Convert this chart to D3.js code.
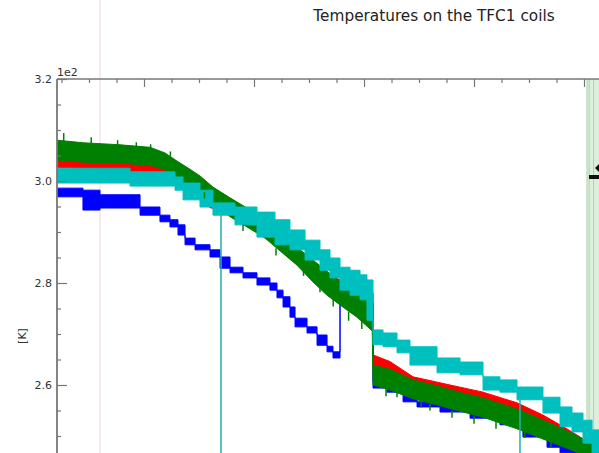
<!DOCTYPE html>
<html>
<head>
<meta charset="utf-8">
<script src="https://cdn.jsdelivr.net/npm/d3@7"></script>
<style>
  body { margin: 0; background: #fff; }
  svg { display: block; font-family: "DejaVu Sans", sans-serif; }
</style>
</head>
<body>
<svg id="chart" width="599" height="453"></svg>
<script>
// time axis (arbitrary units, major tick = 1), temperatures in K
// each row: [t, upper, lower]
const blue = [
  [0.209, 298.6, 296.9], [0.445, 298.2, 294.3], [0.6, 297.3, 294.7], [0.964, 294.9, 293.3],
  [1.145, 293.3, 292.0], [1.236, 292.4, 291.0], [1.309, 291.4, 289.4], [1.373, 288.8, 287.5],
  [1.464, 287.5, 286.5], [1.6, 286.5, 285.1], [1.691, 285.1, 282.9], [1.782, 283.1, 282.0],
  [1.9, 282.0, 281.0], [2.027, 281.0, 279.6], [2.145, 280.0, 278.6], [2.209, 278.6, 277.1],
  [2.264, 277.3, 275.3], [2.327, 275.3, 273.3], [2.373, 273.1, 271.4], [2.482, 271.4, 270.2],
  [2.573, 269.8, 267.8], [2.664, 267.6, 266.5], [2.718, 266.5, 265.3], [2.782, 278.0, 276.1],
  [3.082, 260.6, 259.4], [3.209, 259.6, 258.6], [3.355, 258.4, 256.7], [3.482, 256.7, 255.7],
  [3.691, 256.1, 254.7], [3.964, 255.1, 253.5], [4.236, 253.5, 252.2], [4.445, 251.6, 249.8],
  [4.664, 249.8, 247.8], [4.782, 248.6, 246.7], [4.9, 247.3, 245.3], [5.009, 246.1, 244.1],
  [5.3, 246.1, 244.1]
];
const cyan = [
  [0.209, 302.5, 299.6], [0.873, 301.8, 299.0], [1.282, 300.8, 298.2], [1.355, 299.6, 296.3],
  [1.509, 298.2, 294.9], [1.627, 295.7, 293.3], [1.827, 294.9, 291.4], [2.027, 293.9, 289.0],
  [2.191, 292.4, 287.5], [2.327, 290.4, 286.5], [2.464, 288.4, 284.5], [2.6, 286.5, 282.5],
  [2.691, 284.9, 281.0], [2.782, 283.1, 278.6], [2.873, 282.5, 277.6], [2.964, 281.6, 276.7],
  [3.027, 280.6, 272.7], [3.082, 270.8, 267.9], [3.173, 270.2, 267.5], [3.3, 268.8, 266.3],
  [3.418, 267.5, 263.9], [3.664, 265.3, 262.4], [3.873, 264.5, 262.0], [4.082, 261.6, 259.0],
  [4.236, 261.0, 258.6], [4.391, 259.6, 257.1], [4.627, 257.6, 254.5], [4.782, 255.7, 251.8],
  [4.891, 254.5, 250.8], [4.991, 253.1, 248.6], [5.073, 251.2, 246.7], [5.3, 251.2, 246.7]
];
const red = [
  [0.209, 304.9, 302.7], [0.755, 303.9, 302.2], [1.173, 303.1, 301.2], [1.3, 301.8, 299.8],
  [1.418, 300.2, 298.2], [1.6, 297.3, 294.8], [1.809, 295.3, 293.3], [1.964, 293.9, 292.0],
  [2.145, 291.0, 289.4], [2.327, 287.2, 284.8], [2.509, 283.8, 281.6], [2.782, 280.6, 278.6],
  [2.936, 278.6, 276.7], [3.075, 276.3, 272.7], [3.082, 265.9, 262.9], [3.236, 264.6, 262.4],
  [3.445, 261.6, 259.6], [3.782, 260.0, 258.4], [4.082, 258.6, 257.1], [4.391, 256.5, 254.7],
  [4.627, 254.1, 252.2], [4.845, 251.4, 249.2], [5.009, 249.2, 246.9], [5.3, 245.5, 243.0]
];
const green = [
  [0.209, 308.0, 304.1], [0.445, 307.5, 303.7], [0.782, 307.1, 303.5], [1.055, 306.6, 303.1],
  [1.191, 305.5, 302.2], [1.3, 303.9, 300.6], [1.418, 302.3, 299.2], [1.509, 301.0, 298.2],
  [1.627, 298.8, 295.6], [1.782, 296.7, 293.0], [1.936, 294.7, 291.0], [2.1, 292.5, 288.8],
  [2.236, 289.8, 286.3], [2.391, 287.0, 283.5], [2.536, 284.5, 280.2], [2.664, 282.3, 277.6],
  [2.782, 280.2, 275.7], [2.936, 278.0, 273.3], [3.075, 276.2, 270.6], [3.082, 263.9, 260.0],
  [3.236, 263.1, 259.0], [3.445, 261.0, 257.3], [3.664, 259.8, 256.1], [3.9, 258.4, 254.7],
  [4.082, 257.5, 253.7], [4.391, 255.3, 251.4], [4.627, 253.1, 249.4], [4.845, 251.0, 247.6],
  [5.009, 249.2, 246.1], [5.3, 246.0, 243.0]
];
// short noise spikes on the green trace: [t, from, to]
const greenSpikes = [
  [0.27, 307.5, 309.4], [0.52, 307.3, 308.6], [0.76, 307.0, 308.0], [0.93, 306.7, 307.6],
  [1.06, 306.4, 307.2], [1.24, 304.8, 305.8], [1.55, 297.8, 296.6], [1.9, 291.4, 290.2],
  [2.2, 286.8, 285.4], [2.45, 283.0, 281.4], [2.6, 279.6, 278.2], [2.72, 277.0, 275.4],
  [2.86, 274.4, 272.6], [2.98, 272.6, 271.0], [3.2, 259.4, 257.8], [3.3, 259.0, 257.6],
  [3.52, 257.0, 255.6], [3.6, 256.5, 255.0], [3.8, 255.0, 253.6], [4.0, 254.0, 252.4],
  [4.2, 252.9, 251.4], [4.46, 251.0, 249.6], [4.7, 249.0, 247.8]
];
// dropouts of the cyan sensor: [t, last value]
const cyanDrops = [[1.7, 293.5], [4.418, 258.0]];
const shadedSpan = [5.027, 5.3];
const yMajor = [260, 280, 300, 320];
const yMinor = [245, 250, 255, 265, 270, 275, 285, 290, 295, 305, 310, 315];
const xMajor = [1, 2, 3, 4, 5];
const xMinor = [0.25, 0.5, 0.75, 1.25, 1.5, 1.75, 2.25, 2.5, 2.75, 3.25, 3.5, 3.75, 4.25, 4.5, 4.75, 5.25];

const svg = d3.select("#chart");
const plotLeft = 57, plotTop = 79;

const x = d3.scaleLinear().domain([0.209, 5.3]).range([plotLeft, 617]);
const y = d3.scaleLinear().domain([240, 320]).range([487, plotTop]);

svg.append("defs").append("clipPath").attr("id", "plot")
  .append("rect").attr("x", plotLeft).attr("y", plotTop).attr("width", 560).attr("height", 408);

// faint vertical artefact line
svg.append("line")
  .attr("x1", 100).attr("x2", 100).attr("y1", 0).attr("y2", 453)
  .attr("stroke", "#f3d6d6").attr("stroke-width", 1);

const plot = svg.append("g").attr("clip-path", "url(#plot)");

// shaded span on the right
plot.append("rect")
  .attr("x", x(shadedSpan[0])).attr("y", plotTop)
  .attr("width", x(shadedSpan[1]) - x(shadedSpan[0])).attr("height", 408)
  .attr("fill", "#dcefdc");
[0, 0.02, 0.06].forEach(o => {
  plot.append("line")
    .attr("x1", x(shadedSpan[0] + o)).attr("x2", x(shadedSpan[0] + o))
    .attr("y1", plotTop).attr("y2", 487)
    .attr("stroke", "#a9d6a9").attr("stroke-width", 1);
});

const stepBand = d3.area()
  .x(d => x(d[0]))
  .y0(d => y(d[2]))
  .y1(d => y(d[1]))
  .curve(d3.curveStepAfter);
const smoothBand = d3.area()
  .x(d => x(d[0]))
  .y0(d => y(d[2]))
  .y1(d => y(d[1]));

const series = [
  {data: blue, color: "#0000ff", gen: stepBand},
  {data: red, color: "#ff0000", gen: smoothBand},
  {data: green, color: "#008000", gen: smoothBand},
  {data: cyan, color: "#00bfbf", gen: stepBand}
];

plot.selectAll("path.band")
  .data(series)
  .join("path")
  .attr("class", "band")
  .attr("d", d => d.gen(d.data))
  .attr("fill", d => d.color)
  .attr("stroke", d => d.color)
  .attr("stroke-width", 1);

plot.selectAll("line.spike")
  .data(greenSpikes)
  .join("line")
  .attr("class", "spike")
  .attr("x1", d => x(d[0])).attr("x2", d => x(d[0]))
  .attr("y1", d => y(d[1])).attr("y2", d => y(d[2]))
  .attr("stroke", "#008000").attr("stroke-width", 1.5);

plot.selectAll("line.drop")
  .data(cyanDrops)
  .join("line")
  .attr("class", "drop")
  .attr("x1", d => x(d[0])).attr("x2", d => x(d[0]))
  .attr("y1", d => y(d[1])).attr("y2", y(240))
  .attr("stroke", "#20b2b2").attr("stroke-width", 1.5);

// partial legend/marker at right edge
svg.append("path")
  .attr("d", "M599,164 L595,168 L599,172 Z")
  .attr("fill", "#111");
svg.append("rect")
  .attr("x", 589).attr("y", 175).attr("width", 10).attr("height", 4)
  .attr("fill", "#111");

// axes
const axisColor = "#777";
const yAxis = svg.append("g").attr("transform", `translate(${plotLeft},0)`)
  .call(d3.axisLeft(y).tickValues(yMajor).tickSize(-10).tickPadding(5)
    .tickFormat(d => (d / 100).toFixed(1)));
const yAxisMinor = svg.append("g").attr("transform", `translate(${plotLeft},0)`)
  .call(d3.axisLeft(y).tickValues(yMinor).tickSize(-4).tickFormat(""));
const xAxis = svg.append("g").attr("transform", `translate(0,${plotTop})`)
  .call(d3.axisTop(x).tickValues(xMajor).tickSize(-8).tickFormat(""));
const xAxisMinor = svg.append("g").attr("transform", `translate(0,${plotTop})`)
  .call(d3.axisTop(x).tickValues(xMinor).tickSize(-4).tickFormat(""));

[yAxis, yAxisMinor, xAxis, xAxisMinor].forEach(g => {
  g.select(".domain").remove();
  g.selectAll(".tick line").attr("stroke", axisColor).attr("stroke-width", 1.2);
});
yAxis.selectAll("text")
  .attr("font-family", "DejaVu Sans").attr("font-size", 11).attr("fill", "#333");

// spines
svg.append("line").attr("x1", plotLeft).attr("x2", 599).attr("y1", plotTop).attr("y2", plotTop)
  .attr("stroke", axisColor).attr("stroke-width", 1.6);
svg.append("line").attr("x1", plotLeft).attr("x2", plotLeft).attr("y1", plotTop).attr("y2", 453)
  .attr("stroke", axisColor).attr("stroke-width", 1.8);

// texts
svg.append("text")
  .attr("x", 434).attr("y", 21)
  .attr("text-anchor", "middle")
  .attr("font-size", 15.3).attr("fill", "#222")
  .text("Temperatures on the TFC1 coils");

svg.append("text")
  .attr("x", plotLeft).attr("y", 76)
  .attr("font-size", 11).attr("fill", "#333")
  .text("1e2");

svg.append("text")
  .attr("transform", "translate(26,336) rotate(-90)")
  .attr("text-anchor", "middle")
  .attr("font-size", 11).attr("fill", "#333")
  .text("[K]");
</script>
</body>
</html>
